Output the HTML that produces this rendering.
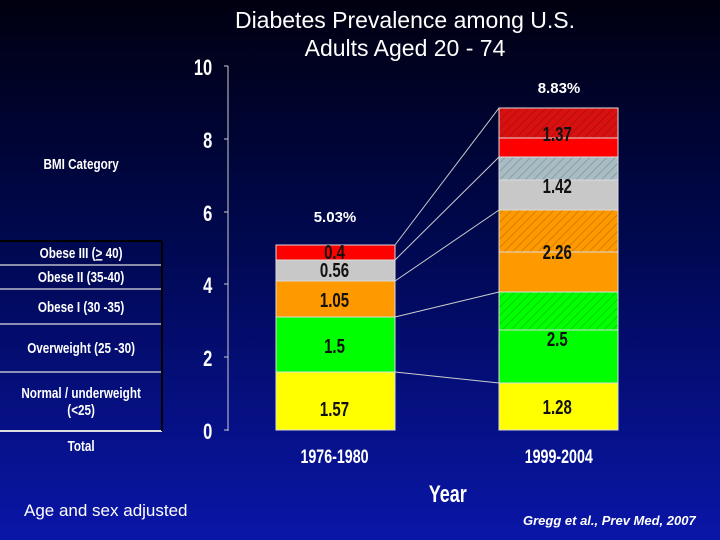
<!DOCTYPE html><html><head><style>
body{margin:0}
#c{width:720px;height:540px;position:relative;overflow:hidden;background:linear-gradient(#000010 0%,#000850 45%,#0a16a8 100%);font-family:"Liberation Sans",sans-serif;color:#fff}
.t{position:absolute;white-space:nowrap}
</style></head><body><div id="c">
<div class="t" style="left:0;width:720px;top:6px;text-align:center;font-size:23px;line-height:28px;padding-left:90px;box-sizing:border-box">Diabetes Prevalence among U.S.<br>Adults Aged 20 - 74</div>
<svg width="720" height="540" style="position:absolute;left:0;top:0" font-family="Liberation Sans" >
<defs>
<pattern id="h" width="6" height="6" patternUnits="userSpaceOnUse" patternTransform="rotate(45)"><rect width="6" height="6" fill="none"/><line x1="0" y1="0" x2="0" y2="6" stroke="#000" stroke-opacity=".22" stroke-width="1.5"/></pattern>
</defs>
<line x1="228" y1="66" x2="228" y2="431" stroke="#ccc"/>
<g stroke="#ccc"><line x1="224" y1="66" x2="228" y2="66"/><line x1="224" y1="139" x2="228" y2="139"/><line x1="224" y1="212" x2="228" y2="212"/><line x1="224" y1="284" x2="228" y2="284"/><line x1="224" y1="357" x2="228" y2="357"/><line x1="224" y1="430" x2="228" y2="430"/></g>
<g fill="#fff" font-size="22" font-weight="bold" text-anchor="end" transform="scale(0.75,1)">
<text x="283" y="75">10</text><text x="283" y="148">8</text><text x="283" y="221">6</text><text x="283" y="293">4</text><text x="283" y="366">2</text><text x="283" y="439">0</text></g>
<g stroke="#ddd" stroke-width="1">
<rect x="276" y="372" width="119" height="58" fill="#ffff00"/>
<rect x="276" y="317" width="119" height="55" fill="#00ff00"/>
<rect x="276" y="281" width="119" height="36" fill="#ff9900"/>
<rect x="276" y="260" width="119" height="21" fill="#c8c8c8"/>
<rect x="276" y="245" width="119" height="15" fill="#ff0000"/>
<rect x="499" y="383" width="119" height="47" fill="#ffff00"/>
<rect x="499" y="292" width="119" height="91" fill="#00ff00"/>
<rect x="499" y="292" width="119" height="38" fill="url(#h)"/>
<rect x="499" y="210" width="119" height="82" fill="#ff9900"/>
<rect x="499" y="210" width="119" height="42" fill="url(#h)"/>
<rect x="499" y="157" width="119" height="53" fill="#c8c8c8"/>
<rect x="499" y="157" width="119" height="23" fill="#a8bcc4"/>
<rect x="499" y="157" width="119" height="23" fill="url(#h)"/>
<rect x="499" y="108" width="119" height="49" fill="#ff0000"/>
<rect x="499" y="108" width="119" height="30" fill="#d81010"/>
<rect x="499" y="108" width="119" height="30" fill="url(#h)"/>
</g>
<g stroke="#ccc" stroke-width="1">
<line x1="395" y1="245" x2="499" y2="108"/><line x1="395" y1="260" x2="499" y2="157"/><line x1="395" y1="281" x2="499" y2="210"/><line x1="395" y1="317" x2="499" y2="292"/><line x1="395" y1="372" x2="499" y2="383"/>
</g>
<g font-size="20" font-weight="bold" fill="#111" text-anchor="middle" transform="scale(0.75,1)">
<text x="446" y="416">1.57</text><text x="446" y="353">1.5</text><text x="446" y="307">1.05</text><text x="446" y="277">0.56</text><text x="446" y="259">0.4</text>
<text x="743" y="414">1.28</text><text x="743" y="346">2.5</text><text x="743" y="259">2.26</text><text x="743" y="193">1.42</text><text x="743" y="141">1.37</text>
</g>
<g font-size="15" font-weight="bold" fill="#fff" text-anchor="middle">
<text x="335" y="222">5.03%</text><text x="559" y="93">8.83%</text></g>
<g font-size="19" font-weight="bold" fill="#fff" text-anchor="middle" transform="scale(0.75,1)">
<text x="446" y="463">1976-1980</text><text x="745" y="463">1999-2004</text></g>
<text x="597" y="502" font-size="24" font-weight="bold" fill="#fff" text-anchor="middle" transform="scale(0.75,1)">Year</text>
<g stroke="#ddd" stroke-width="1.2">
<line x1="0" y1="241" x2="162" y2="241" stroke="#000" stroke-width="2"/>
<line x1="0" y1="265" x2="162" y2="265"/><line x1="0" y1="289" x2="162" y2="289"/><line x1="0" y1="324" x2="162" y2="324"/><line x1="0" y1="372" x2="162" y2="372"/><line x1="0" y1="431" x2="162" y2="431" stroke-width="2"/>
<line x1="162" y1="241" x2="162" y2="431" stroke="#000" stroke-width="2"/>
</g>
<g font-size="15" font-weight="bold" fill="#fff" text-anchor="middle" transform="scale(0.78,1)">
<text x="104" y="169">BMI Category</text>
<text x="104" y="258">Obese III (<tspan text-decoration="underline">&gt;</tspan> 40)</text>
<text x="104" y="282">Obese II (35-40)</text>
<text x="104" y="312">Obese I (30 -35)</text>
<text x="104" y="353">Overweight (25 -30)</text>
<text x="104" y="398">Normal / underweight</text>
<text x="104" y="415">(&lt;25)</text>
<text x="104" y="451">Total</text>
</g>
<text x="24" y="516" font-size="17" fill="#fff">Age and sex adjusted</text>
<text x="523" y="525" font-size="13" font-weight="bold" font-style="italic" fill="#fff">Gregg et al., Prev Med, 2007</text>
</svg>
</div></body></html>
